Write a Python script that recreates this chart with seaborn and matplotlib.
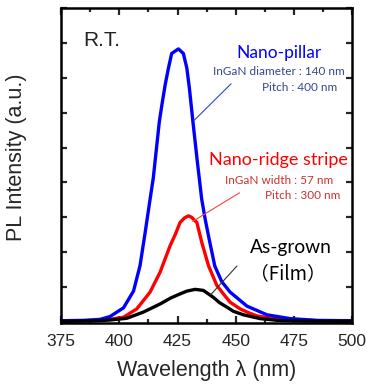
import numpy as np
import pandas as pd
import matplotlib
matplotlib.use("Agg")
import matplotlib.pyplot as plt
import seaborn as sns
from matplotlib.ticker import MultipleLocator

# PL spectra (wavelength in nm, intensity in a.u.)
pillar_wl = [375, 385, 391.8, 396, 401.8, 406.1, 408.9, 411.1, 413.2, 414.6, 417.2, 418.3,
             419.7, 421.1, 422.5, 425.4, 427.5, 429, 430.1, 431.6, 433.5, 435.4, 437,
             438.5, 441, 444, 447.6, 454.8, 463.4, 473.4, 485, 500]
pillar_int = [0.03, 0.04, 0.07, 0.15, 0.4, 0.88, 1.61, 2.56, 3.51, 4.13, 5.75, 6.23,
              6.8, 7.28, 7.7, 7.83, 7.7, 7.28, 6.7, 5.75, 4.6, 3.51, 2.9,
              2.4, 1.6, 1.15, 0.85, 0.45, 0.2, 0.09, 0.04, 0.03]

ridge_wl = [375, 390, 396, 401.8, 407.5, 413.2, 417.5, 421.8, 424, 426.1, 428, 429.7, 431,
            433.3, 435.4, 438.3, 441.9, 444.7, 447.6, 451.9, 454.8, 459, 463.4, 473.4,
            485, 500]
ridge_int = [0.02, 0.04, 0.07, 0.13, 0.37, 0.85, 1.42, 2.18, 2.5, 2.85, 2.98, 3.04, 3.0,
             2.85, 2.28, 1.61, 1.04, 0.8, 0.56, 0.37, 0.28, 0.17, 0.12, 0.07,
             0.03, 0.02]

film_wl = [375, 390, 396, 403.2, 410.4, 417.5, 422, 426.1, 429, 432.6, 436.1, 440.4, 443,
           446.2, 449, 453.3, 460.5, 468, 480, 500]
film_int = [0.01, 0.03, 0.05, 0.1, 0.28, 0.51, 0.68, 0.8, 0.88, 0.93, 0.9, 0.7, 0.55,
            0.42, 0.3, 0.2, 0.09, 0.04, 0.02, 0.01]

x_ticks = [375, 400, 425, 450, 475, 500]

sns.set_style("ticks")
plt.rcParams["font.family"] = ["Liberation Sans", "DejaVu Sans"]

fig = plt.figure(figsize=(3.68, 3.88), dpi=100)
ax = fig.add_axes([0.166, 0.168, 0.791, 0.811])

line_kw = dict(lw=2.4, sort=False, solid_joinstyle="round", solid_capstyle="round")
sns.lineplot(x=ridge_wl, y=ridge_int, color="#ff0000", ax=ax, **line_kw)
sns.lineplot(x=pillar_wl, y=pillar_int, color="#0000ff", ax=ax, **line_kw)
sns.lineplot(x=film_wl, y=film_int, color="black", ax=ax, **line_kw)

ax.set_xlim(375, 500)
ax.set_ylim(-0.03, 9)
ax.set_xticks(x_ticks)
ax.xaxis.set_minor_locator(MultipleLocator(12.5))
ax.yaxis.set_major_locator(MultipleLocator(1))
ax.set_yticklabels([])
ax.tick_params(which="both", direction="in", top=True, right=True, width=1.6)
ax.tick_params(which="major", length=5)
ax.tick_params(which="minor", length=3)
ax.tick_params(axis="y", length=4)
ax.tick_params(axis="x", labelsize=12.5, pad=8)
for sp in ax.spines.values():
    sp.set_linewidth(1.8)
    sp.set_color("black")

ax.set_xlabel("Wavelength \u03bb (nm)", fontsize=15.5, labelpad=8)
ax.set_ylabel("PL Intensity (a.u.)", fontsize=15.5)
ax.yaxis.set_label_coords(-0.118, 0.527)

# annotations
lato = ["Lato", "DejaVu Sans"]
ax.text(384.5, 8.07, "R.T.", fontsize=15, color="#222222", va="center", ha="left")

ax.text(468.6, 7.7, "Nano-pillar", fontsize=12.5, color="#0000ff", family=lato,
        va="center", ha="center")
ax.text(497, 7.17, "InGaN diameter : 140 nm", fontsize=8.5, color="#35468c", family=lato,
        va="center", ha="right")
ax.text(493.6, 6.71, "Pitch : 400 nm", fontsize=8.5, color="#35468c", family=lato,
        va="center", ha="right")
ax.plot([448.0, 432.0], [6.83, 5.77], color="#3040e0", lw=0.8)

ax.text(468.2, 4.63, "Nano-ridge stripe", fontsize=13, color="#ff0000", family=lato,
        va="center", ha="center")
ax.text(491.8, 4.06, "InGaN width : 57 nm", fontsize=8.5, color="#c8322f", family=lato,
        va="center", ha="right")
ax.text(494.8, 3.63, "Pitch : 300 nm", fontsize=8.5, color="#c8322f", family=lato,
        va="center", ha="right")
ax.plot([451.6, 431.5], [3.7, 2.88], color="#ff4040", lw=0.8)

ax.text(473.6, 2.14, "As-grown", fontsize=13.8, color="black", family=lato,
        va="center", ha="center")
ax.text(472.3, 1.37, "\uff08Film\uff09", fontsize=13.5, color="black",
        family=["Noto Sans CJK JP", "DejaVu Sans"], va="center", ha="center")
ax.plot([450.5, 439.3], [1.6, 0.78], color="#333333", lw=0.8)

fig.savefig("out.png", dpi=100)
